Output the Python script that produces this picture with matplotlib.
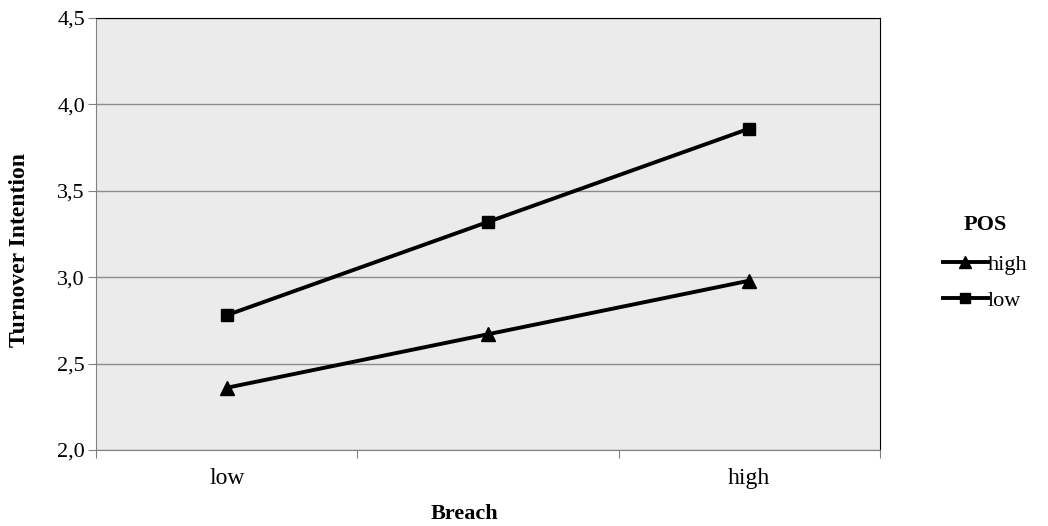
import matplotlib.pyplot as plt
from matplotlib.ticker import FuncFormatter
from matplotlib.lines import Line2D

# data
breach_labels = ['low', '', 'high']
pos_high = [2.36, 2.67, 2.98]
pos_low = [2.78, 3.32, 3.86]

plt.rcParams['font.family'] = ['Liberation Serif', 'DejaVu Serif']

fig = plt.figure(figsize=(10.48, 5.26), dpi=100)
ax = fig.add_axes([96 / 1048, 1 - 450 / 526, 784 / 1048, 432 / 526])
ax.set_facecolor('#ebebeb')

xs = [i + 0.5 for i in range(len(breach_labels))]
ax.plot(xs, pos_high, color='black', lw=2.8, marker='^', ms=9.5, label='high')
ax.plot(xs, pos_low, color='black', lw=2.8, marker='s', ms=9, label='low')

ax.set_xlim(0, len(breach_labels))
ax.set_ylim(2.0, 4.5)
ax.set_yticks([2.0, 2.5, 3.0, 3.5, 4.0, 4.5])
ax.yaxis.set_major_formatter(FuncFormatter(lambda v, p: f'{v:.1f}'.replace('.', ',')))
ax.set_xticks(range(len(breach_labels) + 1))
ax.set_xticklabels([])
ax.set_xticks(xs, minor=True)
ax.set_xticklabels(breach_labels, minor=True)
ax.tick_params(axis='x', which='minor', length=0, pad=13, labelsize=17)
ax.tick_params(axis='x', which='major', length=6, color='#808080')
ax.tick_params(axis='y', length=6, color='#808080', labelsize=16, pad=2)

ax.grid(axis='y', color='#8c8c8c', lw=1)
ax.set_axisbelow(True)
ax.spines['left'].set_color('#808080')
ax.spines['bottom'].set_color('#808080')
ax.spines['top'].set_color('black')
ax.spines['right'].set_color('black')

ax.set_xlabel('Breach', fontsize=16, fontweight='bold')
ax.xaxis.set_label_coords(0.47, -0.125)
ax.set_ylabel('Turnover Intention', fontsize=17, fontweight='bold')
ax.yaxis.set_label_coords(-0.084, 0.463)

handles = [Line2D([], [], color='black', lw=2.8, marker='^', ms=8),
           Line2D([], [], color='black', lw=2.8, marker='s', ms=7.5)]
leg = fig.legend(handles, ['high', 'low'], title='POS', loc='upper left',
                 bbox_to_anchor=(0.9, 0.592), frameon=False, fontsize=16,
                 handlelength=2.0, handletextpad=0.0, labelspacing=0.7,
                 borderpad=0, borderaxespad=0)
leg.get_title().set_fontweight('bold')
leg.get_title().set_fontsize(16)
leg._legend_box.sep = 14

fig.savefig('out.png', dpi=100)
